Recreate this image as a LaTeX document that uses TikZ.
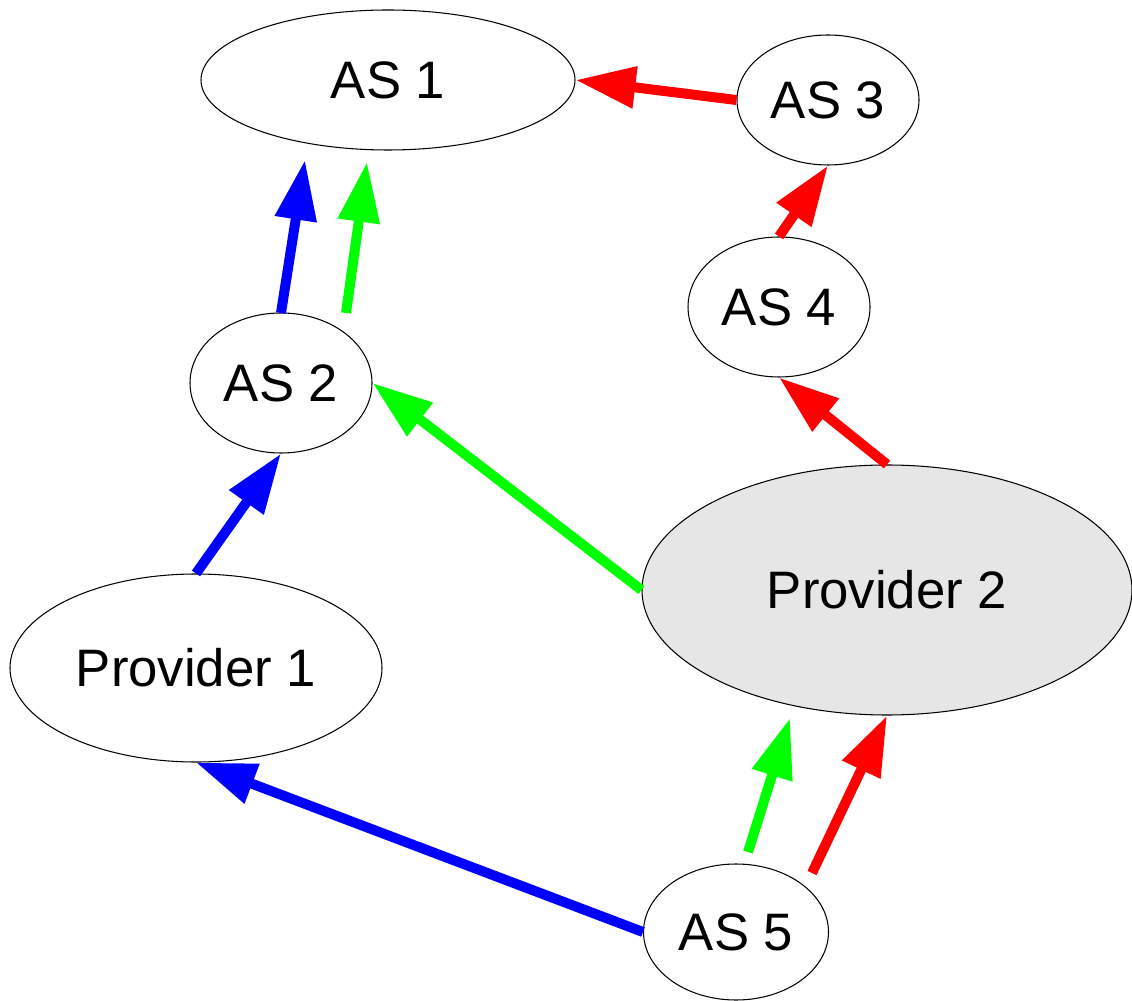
\documentclass[tikz,border=0pt]{standalone}
\usepackage{fontspec}
\setmainfont{Liberation Sans}
\usetikzlibrary{shapes.geometric, arrows.meta}
\definecolor{provfill}{HTML}{E6E6E6}

\begin{document}
\begin{tikzpicture}[
    font=\fontsize{30}{36}\selectfont,
    as/.style={draw, ellipse, line width=0.6pt, inner sep=0pt},
    route/.style={line width=0.2cm, -{Triangle[length=1.2cm, width=0.8cm]}}
]
    \useasboundingbox (0,0) rectangle (22.64,20);

    % autonomous systems
    \node[as, minimum width=7.48cm, minimum height=2.8cm] (as1) at (7.76,18.4) {AS 1};
    \node[as, minimum width=3.64cm, minimum height=2.6cm] (as3) at (16.56,18.0) {AS 3};
    \node[as, minimum width=3.64cm, minimum height=2.8cm] (as4) at (15.58,13.86) {AS 4};
    \node[as, minimum width=3.64cm, minimum height=2.8cm] (as2) at (5.62,12.34) {AS 2};
    \node[as, fill=provfill, minimum width=9.8cm, minimum height=5.0cm] (prov2) at (17.74,8.2) {Provider 2};
    \node[as, minimum width=7.44cm, minimum height=3.76cm] (prov1) at (3.92,6.64) {Provider 1};
    \node[as, minimum width=3.7cm, minimum height=2.72cm] (as5) at (14.72,1.36) {AS 5};

    % loose ends of the side-by-side arrows
    \coordinate (b1s) at (5.62,13.74);  \coordinate (b1e) at (6.10,16.80);
    \coordinate (g1s) at (6.92,13.74);  \coordinate (g1e) at (7.34,16.76);
    \coordinate (g5s) at (14.96,2.96);  \coordinate (g5e) at (15.80,5.64);
    \coordinate (r5s) at (16.24,2.54);

    % red path
    \draw[route, red] (as3.west) -- (as1.east);
    \draw[route, red] (as4.north) -- (as3.south);
    \draw[route, red] (prov2.north) -- (as4.south);
    \draw[route, red] (r5s) -- (prov2.south);

    % green path
    \draw[route, green] (g5s) -- (g5e);
    \draw[route, green] (prov2.west) -- (as2.east);
    \draw[route, green] (g1s) -- (g1e);

    % blue path
    \draw[route, blue] (as5.west) -- (prov1.south);
    \draw[route, blue] (prov1.north) -- (as2.south);
    \draw[route, blue] (b1s) -- (b1e);
\end{tikzpicture}
\end{document}
